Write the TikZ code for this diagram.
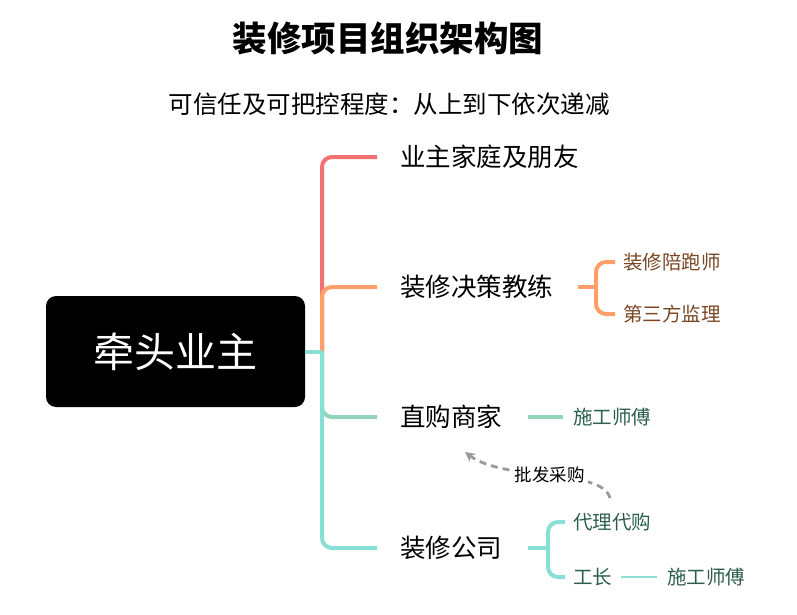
\documentclass[tikz,border=0pt]{standalone}
\usepackage{fontspec}
\setmainfont{Noto Sans CJK SC}
\usetikzlibrary{arrows.meta}
\definecolor{cred}{HTML}{F47272}
\definecolor{corange}{HTML}{FFA06A}
\definecolor{cteal}{HTML}{88DFD3}
\definecolor{cgreen}{HTML}{92D4BA}
\definecolor{cbrown}{HTML}{7A4624}
\definecolor{cdkgreen}{HTML}{2C5E4E}
\definecolor{cgray}{HTML}{9A9A9A}
\tikzset{
  fs/.style={font=\fontsize{#1}{#1}\selectfont},
  branch/.style={line width=4pt, rounded corners=10pt},
  mainlabel/.style={anchor=west, inner sep=0pt, fs=25.5, text=black},
  sublabel/.style={anchor=west, inner sep=0pt, fs=19.5},
}
\begin{document}
\begin{tikzpicture}[x=1pt,y=-1pt]
\useasboundingbox (0,0) rectangle (797,615);
% titles
\node[fs=34.5, font=\bfseries\fontsize{34.5}{36}\selectfont] (title) at (388,38) {装修项目组织架构图};
\node[fs=24.5] (subtitle) at (389,104) {可信任及可把控程度：从上到下依次递减};
% root
\node[fill=black, rounded corners=10pt, minimum width=259pt, minimum height=111pt, inner sep=0pt, text=white, fs=41] (root) at (175.5,351.5) {牵头业主};
\coordinate (j) at (322,351.5);
% main branch labels
\node[mainlabel] (b1) at (400,157) {业主家庭及朋友};
\node[mainlabel] (b2) at (400,287) {装修决策教练};
\node[mainlabel] (b3) at (400,417) {直购商家};
\node[mainlabel] (b4) at (400,548) {装修公司};
% main branches
\draw[branch, cred] (j) |- ([xshift=-23pt]b1.west);
\draw[branch, corange] (j) |- ([xshift=-23pt]b2.west);
\draw[branch, cgreen] (j) |- ([xshift=-23pt]b3.west);
\draw[branch, cteal] (j) |- ([xshift=-23pt]b4.west);
\draw[line width=4pt, cteal] (root.east) -- (j);
% orange children
\node[sublabel, text=cbrown] (c1) at (623,262) {装修陪跑师};
\node[sublabel, text=cbrown] (c2) at (623,314) {第三方监理};
\coordinate (oj) at (596,287);
\draw[line width=4pt, corange] ([xshift=25pt]b2.east) -- (oj);
\draw[branch, corange] (oj) |- ([xshift=-8pt]c1.west);
\draw[branch, corange] (oj) |- ([xshift=-8pt]c2.west);
% direct purchase child
\node[sublabel, text=cdkgreen] (d1) at (573,417) {施工师傅};
\draw[line width=4pt, cgreen] ([xshift=26pt]b3.east) -- ([xshift=-10pt]d1.west);
% company children
\node[sublabel, text=cdkgreen] (e1) at (573,522) {代理代购};
\node[sublabel, text=cdkgreen] (e2) at (573,577) {工长};
\node[sublabel, text=cdkgreen] (e3) at (667,577) {施工师傅};
\coordinate (tj) at (548,548);
\draw[line width=4pt, cteal] ([xshift=26pt]b4.east) -- (tj);
\draw[branch, cteal] (tj) |- ([xshift=-8pt]e1.west);
\draw[branch, cteal] (tj) |- ([xshift=-8pt]e2.west);
\draw[line width=2pt, cteal] ([xshift=9pt]e2.east) -- ([xshift=-10pt]e3.west);
% dashed arrow
\coordinate (as) at (610,498);
\coordinate (ae) at (465,452);
\draw[cgray, line width=2.8pt, dash pattern=on 7pt off 5pt, -{Stealth[length=10pt,width=10pt]}]
  (as) .. controls (602,468) and (505,482) .. (ae)
  node[pos=0.5, fill=white, text=black, fs=17.5, inner sep=3pt] (lab) {批发采购};
\end{tikzpicture}
\end{document}
